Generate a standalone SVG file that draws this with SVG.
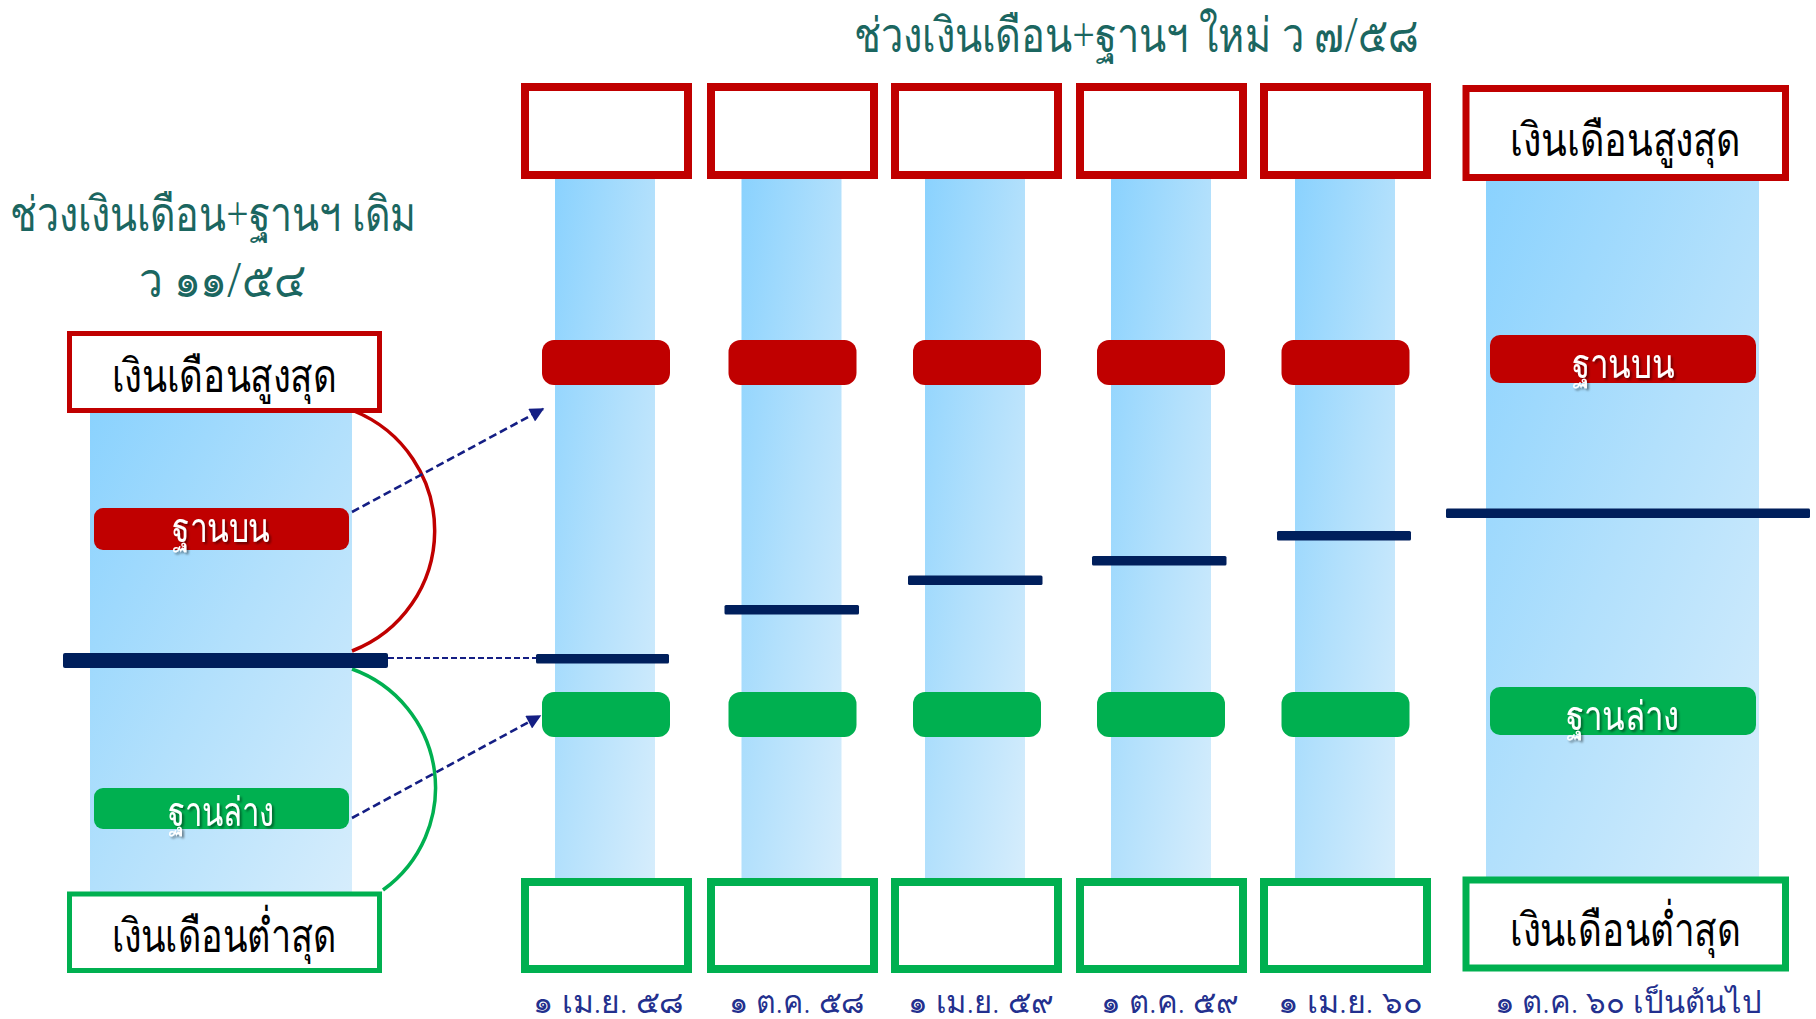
<svg xmlns="http://www.w3.org/2000/svg" width="1816" height="1019" viewBox="0 0 1816 1019">
<defs>
<linearGradient id="col" x1="0" y1="0" x2="1" y2="1">
<stop offset="0" stop-color="#8ad2fe"/>
<stop offset="0.5" stop-color="#b2e0fc"/>
<stop offset="1" stop-color="#d6edfc"/>
</linearGradient>
<filter id="sh" x="-20%" y="-30%" width="140%" height="160%">
<feDropShadow dx="2" dy="2" stdDeviation="1.2" flood-color="#000" flood-opacity="0.45"/>
</filter>
<marker id="arr" viewBox="0 0 10 10" refX="9" refY="5" markerWidth="6" markerHeight="5.5" orient="auto" markerUnits="strokeWidth">
<path d="M0,0 L10,5 L0,10 z" fill="#141e84"/>
</marker>
<style>
.col{fill:url(#col)}
.rbox{fill:#fff;stroke:#c00000}
.gbox{fill:#fff;stroke:#00b050}
.rp{fill:#c00000}
.gp{fill:#00b050}
.nv{fill:#001f5c}
.ttl{font-family:"Noto Sans","DejaVu Sans",sans-serif;fill:#1b6660;font-size:48px;font-weight:300;text-anchor:middle}
.dt{font-family:"Noto Sans","DejaVu Sans",sans-serif;fill:#23308e;font-size:31px;font-weight:300;text-anchor:middle}
.bt{font-family:"Noto Sans","DejaVu Sans",sans-serif;fill:#000;font-size:46px;text-anchor:middle}
.wt{font-family:"Noto Sans","DejaVu Sans",sans-serif;fill:#fff;font-size:40px;text-anchor:middle;filter:url(#sh)}
.dash{fill:none;stroke:#141e84;stroke-width:2.6;stroke-dasharray:8 4}
</style>
</defs>

<g id="titles">
<text class="ttl" x="1136" y="52" textLength="565" lengthAdjust="spacingAndGlyphs">ช่วงเงินเดือน+ฐานฯ ใหม่ ว ๗/๕๘</text>
<text class="ttl" x="213" y="231" textLength="407" lengthAdjust="spacingAndGlyphs">ช่วงเงินเดือน+ฐานฯ เดิม</text>
<text class="ttl" x="222" y="297" textLength="167" lengthAdjust="spacingAndGlyphs">ว ๑๑/๕๔</text>
</g>

<g id="old-range">
<rect class="col" x="90" y="410" width="262" height="484"/>
</g>

<g id="connectors">
<path d="M354,411 A129,129 0 0 1 352,651" fill="none" stroke="#c00000" stroke-width="3.5"/>
<path d="M352,669 A126,126 0 0 1 383,890" fill="none" stroke="#00b050" stroke-width="3.5"/>
<line class="dash" x1="352" y1="512" x2="543" y2="409" marker-end="url(#arr)"/>
<line class="dash" x1="352" y1="818" x2="540" y2="716" marker-end="url(#arr)"/>
<line x1="388" y1="658" x2="536" y2="658" stroke="#141e84" stroke-width="1.8" stroke-dasharray="6 3"/>
</g>

<g id="old-max">
<rect class="rbox" x="69.5" y="333.5" width="310" height="77" stroke-width="5"/>
<text class="bt" x="224" y="392" textLength="225" lengthAdjust="spacingAndGlyphs">เงินเดือนสูงสุด</text>
</g>
<g id="old-upper">
<rect class="rp" x="94" y="508" width="255" height="42" rx="9"/>
<text class="wt" x="221" y="542" textLength="98" lengthAdjust="spacingAndGlyphs">ฐานบน</text>
</g>
<g id="old-mid">
<rect class="nv" x="63" y="653" width="325" height="15" rx="2"/>
</g>
<g id="old-lower">
<rect class="gp" x="94" y="788" width="255" height="41" rx="9"/>
<text class="wt" x="221" y="826" textLength="107" lengthAdjust="spacingAndGlyphs">ฐานล่าง</text>
</g>
<g id="old-min">
<rect class="gbox" x="69.5" y="894" width="310" height="76.5" stroke-width="5"/>
<text class="bt" x="224" y="952" textLength="225" lengthAdjust="spacingAndGlyphs">เงินเดือนต่ำสุด</text>
</g>

<g id="step1">
<rect class="col" x="555" y="179" width="100" height="700"/>
<rect class="rbox" x="525" y="87" width="163" height="88" stroke-width="8"/>
<rect class="gbox" x="525" y="882" width="163" height="87" stroke-width="8"/>
<rect class="rp" x="542" y="340" width="128" height="45" rx="12"/>
<rect class="gp" x="542" y="692" width="128" height="45" rx="12"/>
<rect class="nv" x="536" y="654" width="133" height="9.5" rx="1.5"/>
<text class="dt" x="608.5" y="1013" textLength="151" lengthAdjust="spacingAndGlyphs">๑ เม.ย. ๕๘</text>
</g>
<g id="step2">
<rect class="col" x="741.5" y="179" width="100" height="700"/>
<rect class="rbox" x="711" y="87" width="163" height="88" stroke-width="8"/>
<rect class="gbox" x="711" y="882" width="163" height="87" stroke-width="8"/>
<rect class="rp" x="728.5" y="340" width="128" height="45" rx="12"/>
<rect class="gp" x="728.5" y="692" width="128" height="45" rx="12"/>
<rect class="nv" x="724.5" y="605" width="134.5" height="9.5" rx="1.5"/>
<text class="dt" x="796.5" y="1013" textLength="136" lengthAdjust="spacingAndGlyphs">๑ ต.ค. ๕๘</text>
</g>
<g id="step3">
<rect class="col" x="925" y="179" width="100" height="700"/>
<rect class="rbox" x="895" y="87" width="163" height="88" stroke-width="8"/>
<rect class="gbox" x="895" y="882" width="163" height="87" stroke-width="8"/>
<rect class="rp" x="913" y="340" width="128" height="45" rx="12"/>
<rect class="gp" x="913" y="692" width="128" height="45" rx="12"/>
<rect class="nv" x="908" y="575.5" width="134.5" height="9.5" rx="1.5"/>
<text class="dt" x="980.5" y="1013" textLength="146" lengthAdjust="spacingAndGlyphs">๑ เม.ย. ๕๙</text>
</g>
<g id="step4">
<rect class="col" x="1111" y="179" width="100" height="700"/>
<rect class="rbox" x="1080" y="87" width="163" height="88" stroke-width="8"/>
<rect class="gbox" x="1080" y="882" width="163" height="87" stroke-width="8"/>
<rect class="rp" x="1097" y="340" width="128" height="45" rx="12"/>
<rect class="gp" x="1097" y="692" width="128" height="45" rx="12"/>
<rect class="nv" x="1092" y="556" width="134.5" height="9.5" rx="1.5"/>
<text class="dt" x="1170" y="1013" textLength="138" lengthAdjust="spacingAndGlyphs">๑ ต.ค. ๕๙</text>
</g>
<g id="step5">
<rect class="col" x="1295" y="179" width="100" height="700"/>
<rect class="rbox" x="1264" y="87" width="163" height="88" stroke-width="8"/>
<rect class="gbox" x="1264" y="882" width="163" height="87" stroke-width="8"/>
<rect class="rp" x="1281.5" y="340" width="128" height="45" rx="12"/>
<rect class="gp" x="1281.5" y="692" width="128" height="45" rx="12"/>
<rect class="nv" x="1277" y="531" width="134" height="9.5" rx="1.5"/>
<text class="dt" x="1350" y="1013" textLength="145" lengthAdjust="spacingAndGlyphs">๑ เม.ย. ๖๐</text>
</g>

<g id="new-range">
<rect class="col" x="1486" y="181" width="273" height="697"/>
</g>
<g id="new-max">
<rect class="rbox" x="1466" y="88.5" width="319.5" height="89" stroke-width="7"/>
<text class="bt" x="1625.5" y="156" font-size="48" textLength="231" lengthAdjust="spacingAndGlyphs">เงินเดือนสูงสุด</text>
</g>
<g id="new-upper">
<rect class="rp" x="1490" y="335" width="266" height="48" rx="10"/>
<text class="wt" x="1623" y="378" font-size="42" textLength="102" lengthAdjust="spacingAndGlyphs">ฐานบน</text>
</g>
<g id="new-mid">
<rect class="nv" x="1446" y="508.6" width="364" height="9.5" rx="1.5"/>
</g>
<g id="new-lower">
<rect class="gp" x="1490" y="687" width="266" height="48" rx="10"/>
<text class="wt" x="1623" y="730" font-size="42" textLength="114" lengthAdjust="spacingAndGlyphs">ฐานล่าง</text>
</g>
<g id="new-min">
<rect class="gbox" x="1466" y="880" width="319.5" height="88" stroke-width="7"/>
<text class="bt" x="1625.5" y="946" font-size="48" textLength="231" lengthAdjust="spacingAndGlyphs">เงินเดือนต่ำสุด</text>
</g>
<g id="new-date">
<text class="dt" x="1628" y="1013" font-size="33" textLength="267" lengthAdjust="spacingAndGlyphs">๑ ต.ค. ๖๐ เป็นต้นไป</text>
</g>
</svg>
